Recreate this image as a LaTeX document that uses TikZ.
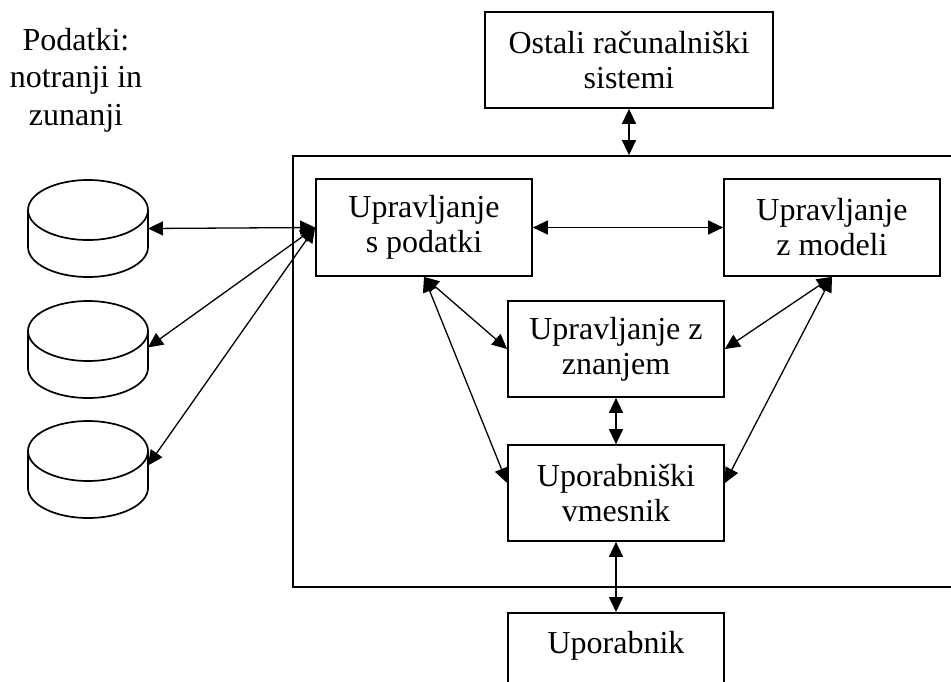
\documentclass[tikz,border=0pt]{standalone}
\usepackage{fontspec}
\setmainfont{Liberation Serif}
\usepackage{tikz}
\usetikzlibrary{arrows.meta,shapes.geometric}

\begin{document}
\begin{tikzpicture}[x=1pt,y=-1pt,
    font=\fontsize{32}{35}\selectfont,
    >={Triangle[length=15pt,width=14pt]},
    blok/.style={draw,line width=1.7pt,minimum width=216pt,minimum height=97pt,align=center},
    baza/.style={draw,line width=1.7pt,cylinder,shape border rotate=90,aspect=3,inner sep=10pt,
                 minimum width=120pt,minimum height=97pt,anchor=shape center},
    pov/.style={<->,line width=1.3pt}]
    \useasboundingbox (0,0) rectangle (951,681);

    % Okvir sistema
    \node[draw,line width=1.7pt,minimum width=680pt,minimum height=431pt] (okvir) at (633,371.5) {};

    % Podatki
    \node[align=center,anchor=base,font=\fontsize{32}{37.5}\selectfont] (podatki) at (76,125)
        {Podatki:\\notranji in\\zunanji};
    \node[baza] (baza1) at (88,228.5) {};
    \node[baza] (baza2) at (88,349.5) {};
    \node[baza] (baza3) at (88,469.5) {};

    % Bloki
    \node[blok,minimum width=288pt,minimum height=96pt] (ostali) at (629,60) {Ostali računalniški\\sistemi};
    \node[blok] (upr) at (424,227.5) {Upravljanje\\s podatki};
    \node[blok] (modeli) at (832,227.5) {Upravljanje\\z modeli};
    \node[blok,minimum height=96pt] (znanje) at (616,349) {Upravljanje z\\znanjem};
    \node[blok,minimum height=96pt] (vmesnik) at (616,493) {Uporabniški\\vmesnik};
    \node[blok,minimum height=96pt,anchor=north,text height=22pt,text depth=36pt] (uporabnik) at (616,612) {Uporabnik};

    % Povezave
    \draw[pov] (ostali.south) -- (ostali.south |- okvir.north);
    \draw[pov] (upr.west) -- (baza1.shape center -| baza1.east);
    \draw[pov] (upr.west) -- ([yshift=2pt]baza2.shape center -| baza2.east);
    \draw[pov] (upr.west) -- ([yshift=4pt]baza3.shape center -| baza3.east);
    \draw[pov] (upr.east) -- (modeli.west);
    \draw[pov] (upr.south) -- (znanje.west);
    \draw[pov] (upr.south) -- ([yshift=10pt]vmesnik.west);
    \draw[pov] (modeli.south) -- (znanje.east);
    \draw[pov] (modeli.south) -- ([yshift=10pt]vmesnik.east);
    \draw[pov] (znanje.south) -- (vmesnik.north);
    \draw[pov] (vmesnik.south) -- (uporabnik.north);
\end{tikzpicture}
\end{document}
